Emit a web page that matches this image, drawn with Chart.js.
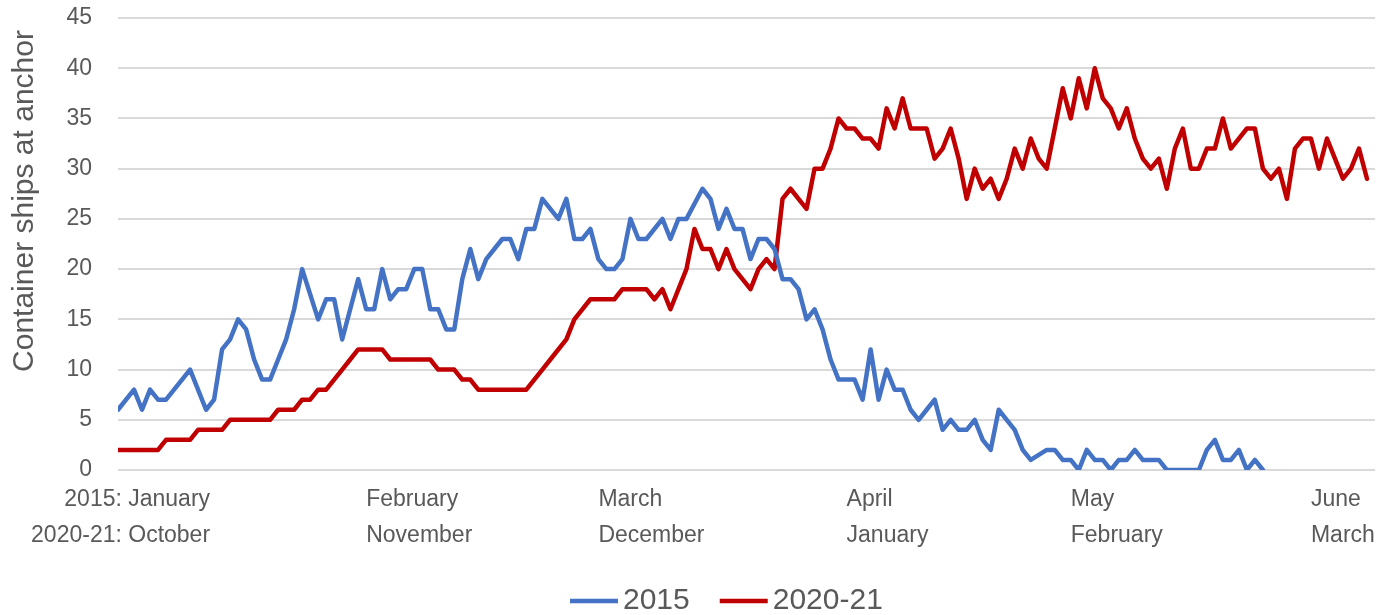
<!DOCTYPE html>
<html>
<head>
<meta charset="utf-8">
<script src="https://cdn.jsdelivr.net/npm/chart.js@4.4.0/dist/chart.umd.min.js"></script>
<style>
  html, body { margin: 0; padding: 0; background: #fff; }
  #wrap { width: 1388px; height: 615px; }
</style>
</head>
<body>
<div id="wrap"><canvas id="chart" width="1388" height="615"></canvas></div>
<script>
// Ships waiting at anchor, by day from the start of each period
const days2015 = [0, 2, 3, 4, 5, 6, 7, 9, 11, 12, 13, 14, 15, 16, 17, 18, 19, 20, 21, 22, 23, 25, 26, 27, 28, 29, 30,
  31, 32, 33, 34, 35, 36, 37, 38, 39, 40, 41, 42, 43, 44, 45, 46, 47, 48, 49, 50, 51, 52, 53, 54, 55, 56, 57, 58, 59,
  60, 61, 62, 63, 64, 65, 66, 68, 69, 70, 71, 73, 74, 75, 76, 77, 78, 79, 80, 81, 82, 83, 84, 85, 86, 87, 88, 89, 90,
  92, 93, 94, 95, 96, 97, 98, 99, 100, 101, 102, 103, 104, 105, 106, 107, 108, 109, 110, 111, 112, 113, 114, 116, 117,
  118, 119, 120, 121, 122, 123, 124, 125, 126, 127, 128, 129, 130, 131, 135, 136, 137, 138, 139, 140, 141, 142, 143];
const ships2015 = [6, 8, 6, 8, 7, 7, 8, 10, 6, 7, 12, 13, 15, 14, 11, 9, 9, 11, 13, 16, 20, 15, 17, 17, 13, 16, 19,
  16, 16, 20, 17, 18, 18, 20, 20, 16, 16, 14, 14, 19, 22, 19, 21, 22, 23, 23, 21, 24, 24, 27, 26, 25, 27, 23, 23, 24,
  21, 20, 20, 21, 25, 23, 23, 25, 23, 25, 25, 28, 27, 24, 26, 24, 24, 21, 23, 23, 22, 19, 19, 18, 15, 16, 14, 11, 9,
  9, 7, 12, 7, 10, 8, 8, 6, 5, 6, 7, 4, 5, 4, 4, 5, 3, 2, 6, 5, 4, 2, 1, 2, 2,
  1, 1, 0, 2, 1, 1, 0, 1, 1, 2, 1, 1, 1, 0, 0, 2, 3, 1, 1, 2, 0, 1, 0];

const days2020 = [0, 5, 6, 9, 10, 13, 14, 19, 20, 22, 23, 24, 25, 26, 28, 29, 30, 33, 34, 39, 40, 42, 43, 44, 45, 51,
  53, 54, 56, 57, 59, 62, 63, 66, 67, 68, 69, 71, 72, 73, 74, 75, 76, 77, 78, 79, 80, 81, 82, 83, 84, 85, 86, 87, 88,
  89, 90, 91, 92, 93, 94, 95, 96, 97, 98, 99, 101, 102, 103, 104, 105, 106, 107, 108, 109, 110, 111, 112, 113, 114,
  115, 116, 117, 118, 119, 120, 121, 122, 123, 124, 125, 126, 127, 128, 129, 130, 131, 132, 133, 134, 135, 136, 137,
  138, 139, 140, 141, 142, 143, 144, 145, 146, 147, 148, 149, 150, 151, 152, 153, 154, 155, 156];
const ships2020 = [2, 2, 3, 3, 4, 4, 5, 5, 6, 6, 7, 7, 8, 8, 10, 11, 12, 12, 11, 11, 10, 10, 9, 9, 8, 8,
  10, 11, 13, 15, 17, 17, 18, 18, 17, 18, 16, 20, 24, 22, 22, 20, 22, 20, 19, 18, 20, 21, 20, 27, 28, 27, 26, 30, 30,
  32, 35, 34, 34, 33, 33, 32, 36, 34, 37, 34, 34, 31, 32, 34, 31, 27, 30, 28, 29, 27, 29, 32, 30, 33,
  31, 30, 34, 38, 35, 39, 36, 40, 37, 36, 34, 36, 33, 31, 30, 31, 28, 32, 34, 30, 30, 32, 32,
  35, 32, 33, 34, 34, 30, 29, 30, 27, 32, 33, 33, 30, 33, 31, 29, 30, 32, 29];

// Month labels along the bottom (two calendars share one axis)
const tickDays = [11.5, 31, 60, 91, 119, 149];
const months2015 = ['2015: January', 'February', 'March', 'April', 'May', 'June'];
const months2020 = ['2020-21: October', 'November', 'December', 'January', 'February', 'March'];

const seriesNames = ['2015', '2020-21'];
const seriesColors = ['#4472C4', '#C00000'];

const textGrey = '#595959';
const fontFamily = '"Liberation Sans", Arial, sans-serif';

const toPoints = (xs, ys) => xs.map((d, i) => ({ x: d, y: ys[i] }));

// Draws the two-row month labels, the rotated y title and the legend
const axisText = {
  id: 'axisText',
  afterDraw(chart) {
    const { ctx, chartArea, scales } = chart;
    const x = scales.x;
    ctx.save();
    ctx.fillStyle = textGrey;
    ctx.textBaseline = 'middle';
    ctx.font = '23px ' + fontFamily;
    tickDays.forEach((d, i) => {
      const px = x.getPixelForValue(d);
      ctx.textAlign = i === 0 ? 'right' : 'left';
      ctx.fillText(months2015[i], px, chartArea.bottom + 30);
      ctx.fillText(months2020[i], px, chartArea.bottom + 66);
    });

    // y axis title
    ctx.save();
    ctx.font = '30px ' + fontFamily;
    ctx.translate(25, 201);
    ctx.rotate(-Math.PI / 2);
    ctx.textAlign = 'center';
    ctx.fillText('Container ships at anchor', 0, 0);
    ctx.restore();

    // legend
    ctx.font = '30px ' + fontFamily;
    ctx.textAlign = 'left';
    let lx = 570;
    const ly = 601;
    chart.data.datasets.forEach((ds) => {
      ctx.strokeStyle = ds.borderColor;
      ctx.lineWidth = 4.5;
      ctx.beginPath();
      ctx.moveTo(lx, ly);
      ctx.lineTo(lx + 48, ly);
      ctx.stroke();
      lx += 53;
      ctx.fillText(ds.label, lx, ly);
      lx += ctx.measureText(ds.label).width + 30;
    });
    ctx.restore();
  }
};

new Chart(document.getElementById('chart'), {
  type: 'line',
  data: {
    datasets: [
      {
        label: seriesNames[0],
        data: toPoints(days2015, ships2015),
        borderColor: seriesColors[0],
        backgroundColor: seriesColors[0]
      },
      {
        label: seriesNames[1],
        data: toPoints(days2020, ships2020),
        borderColor: seriesColors[1],
        backgroundColor: seriesColors[1]
      }
    ]
  },
  options: {
    responsive: false,
    animation: false,
    devicePixelRatio: 1,
    layout: { padding: { top: 18, right: 13, bottom: 145, left: 0 } },
    elements: {
      point: { radius: 0 },
      line: { borderWidth: 4.5, tension: 0, borderJoinStyle: 'round', borderCapStyle: 'round' }
    },
    plugins: {
      legend: { display: false },
      tooltip: { enabled: false }
    },
    scales: {
      x: {
        type: 'linear',
        display: false,
        min: 0,
        max: 157
      },
      y: {
        min: 0,
        max: 45,
        afterFit: (scale) => {
          // fixed axis width; labels may overhang the plot top
          scale.width = 118;
          scale.paddingTop = 0;
          scale.paddingBottom = 0;
        },
        ticks: {
          stepSize: 5,
          padding: 26,
          color: textGrey,
          font: { size: 23, family: fontFamily }
        },
        grid: { color: '#d9d9d9', lineWidth: 2, drawTicks: false },
        border: { display: false }
      }
    }
  },
  plugins: [axisText]
});
</script>
</body>
</html>
